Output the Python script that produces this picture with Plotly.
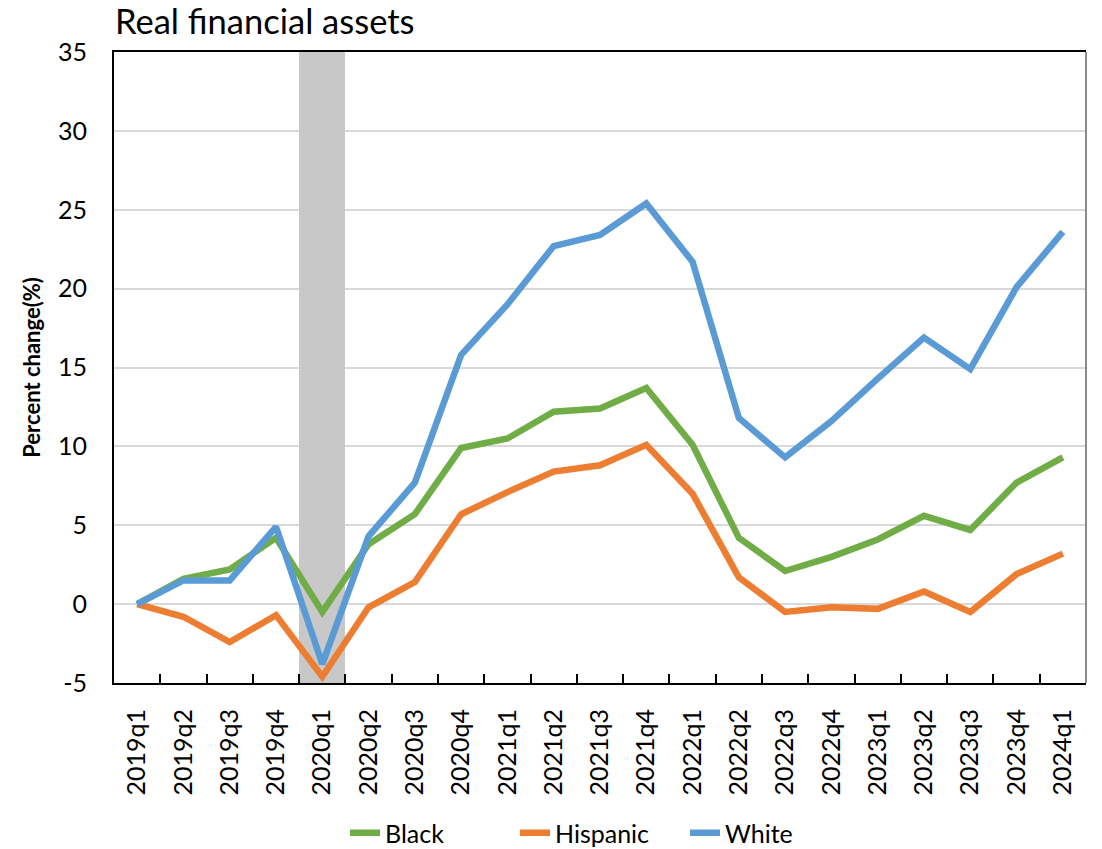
import plotly.graph_objects as go

quarters = ["2019q1", "2019q2", "2019q3", "2019q4", "2020q1", "2020q2", "2020q3", "2020q4",
            "2021q1", "2021q2", "2021q3", "2021q4", "2022q1", "2022q2", "2022q3", "2022q4",
            "2023q1", "2023q2", "2023q3", "2023q4", "2024q1"]
black = [0, 1.6, 2.2, 4.2, -0.5, 3.8, 5.7, 9.9, 10.5, 12.2, 12.4, 13.7, 10.1, 4.2, 2.1, 3.0,
         4.1, 5.6, 4.7, 7.7, 9.3]
hispanic = [0, -0.8, -2.4, -0.7, -4.6, -0.2, 1.4, 5.7, 7.1, 8.4, 8.8, 10.1, 7.0, 1.7, -0.5, -0.2,
            -0.3, 0.8, -0.5, 1.9, 3.2]
white = [0, 1.5, 1.5, 4.9, -3.8, 4.3, 7.7, 15.8, 19.0, 22.7, 23.4, 25.4, 21.7, 11.8, 9.3, 11.6,
         14.3, 16.9, 14.9, 20.1, 23.6]
recession_quarters = ["2020q1"]
y_tick_values = [-5, 0, 5, 10, 15, 20, 25, 30, 35]
y_tick_labels = ["-5", "0", "5", "10", "15", "20", "25", "30", "35"]
y_min, y_max = -5, 35

FONT = "Lato, Carlito, Calibri, 'Open Sans', sans-serif"

fig = go.Figure()
fig.add_trace(go.Bar(x=recession_quarters, y=[y_max - y_min] * len(recession_quarters),
                     base=[y_min] * len(recession_quarters), width=1,
                     marker=dict(color="#c8c8c8", line=dict(width=0)),
                     showlegend=False, hoverinfo="skip"))
for name, vals, col in [("Black", black, "#70AD47"), ("Hispanic", hispanic, "#ED7D31"),
                        ("White", white, "#5B9BD5")]:
    fig.add_trace(go.Scatter(x=quarters, y=vals, mode="lines", name=name,
                             line=dict(color=col, width=6.5)))

fig.update_layout(
    width=1102, height=849,
    margin=dict(l=114, r=16, t=52, b=166, autoexpand=False),
    paper_bgcolor="white", plot_bgcolor="white",
    font=dict(family=FONT, color="black", size=25),
    title=dict(text="Real financial assets", x=115/1102, xanchor="left", y=1 - 22/849, yanchor="middle",
               font=dict(size=34.5, family=FONT)),
    showlegend=True,
    legend=dict(orientation="h", x=0.5, xanchor="center", y=-(833 - 683)/631, yanchor="middle",
                font=dict(size=25, family=FONT), itemwidth=30, tracegroupgap=0,
                entrywidth=125, entrywidthmode="pixels"),
    bargap=0,
)
fig.update_xaxes(type="category", categoryorder="array", categoryarray=quarters,
                 tickangle=-90, tickfont=dict(size=25), showline=True, linecolor="black",
                 linewidth=2, mirror=True, ticks="inside", tickson="boundaries",
                 ticklen=9, tickcolor="black", tickwidth=2, showgrid=False, automargin=False,
                 ticklabelstandoff=14,
                 range=[-0.5, len(quarters) - 0.5])
fig.update_yaxes(range=[y_min, y_max], tickmode="array", tickvals=y_tick_values,
                 ticktext=y_tick_labels, showgrid=True, gridcolor="#d9d9d9",
                 gridwidth=2, showline=True, linecolor="black", linewidth=2, zeroline=False,
                 ticks="", tickfont=dict(size=25), automargin=False, ticklabelstandoff=20,
                 title=dict(text="<b>Percent change(%)</b>", font=dict(size=22), standoff=11))
fig.add_shape(type="line", xref="paper", yref="paper", x0=1, x1=1, y0=0, y1=1,
              line=dict(color="#8c8c8c", width=2))

fig.write_html("out.html", config={"displayModeBar": False},
               post_script="document.body.style.margin='0';document.body.style.overflow='hidden';")
